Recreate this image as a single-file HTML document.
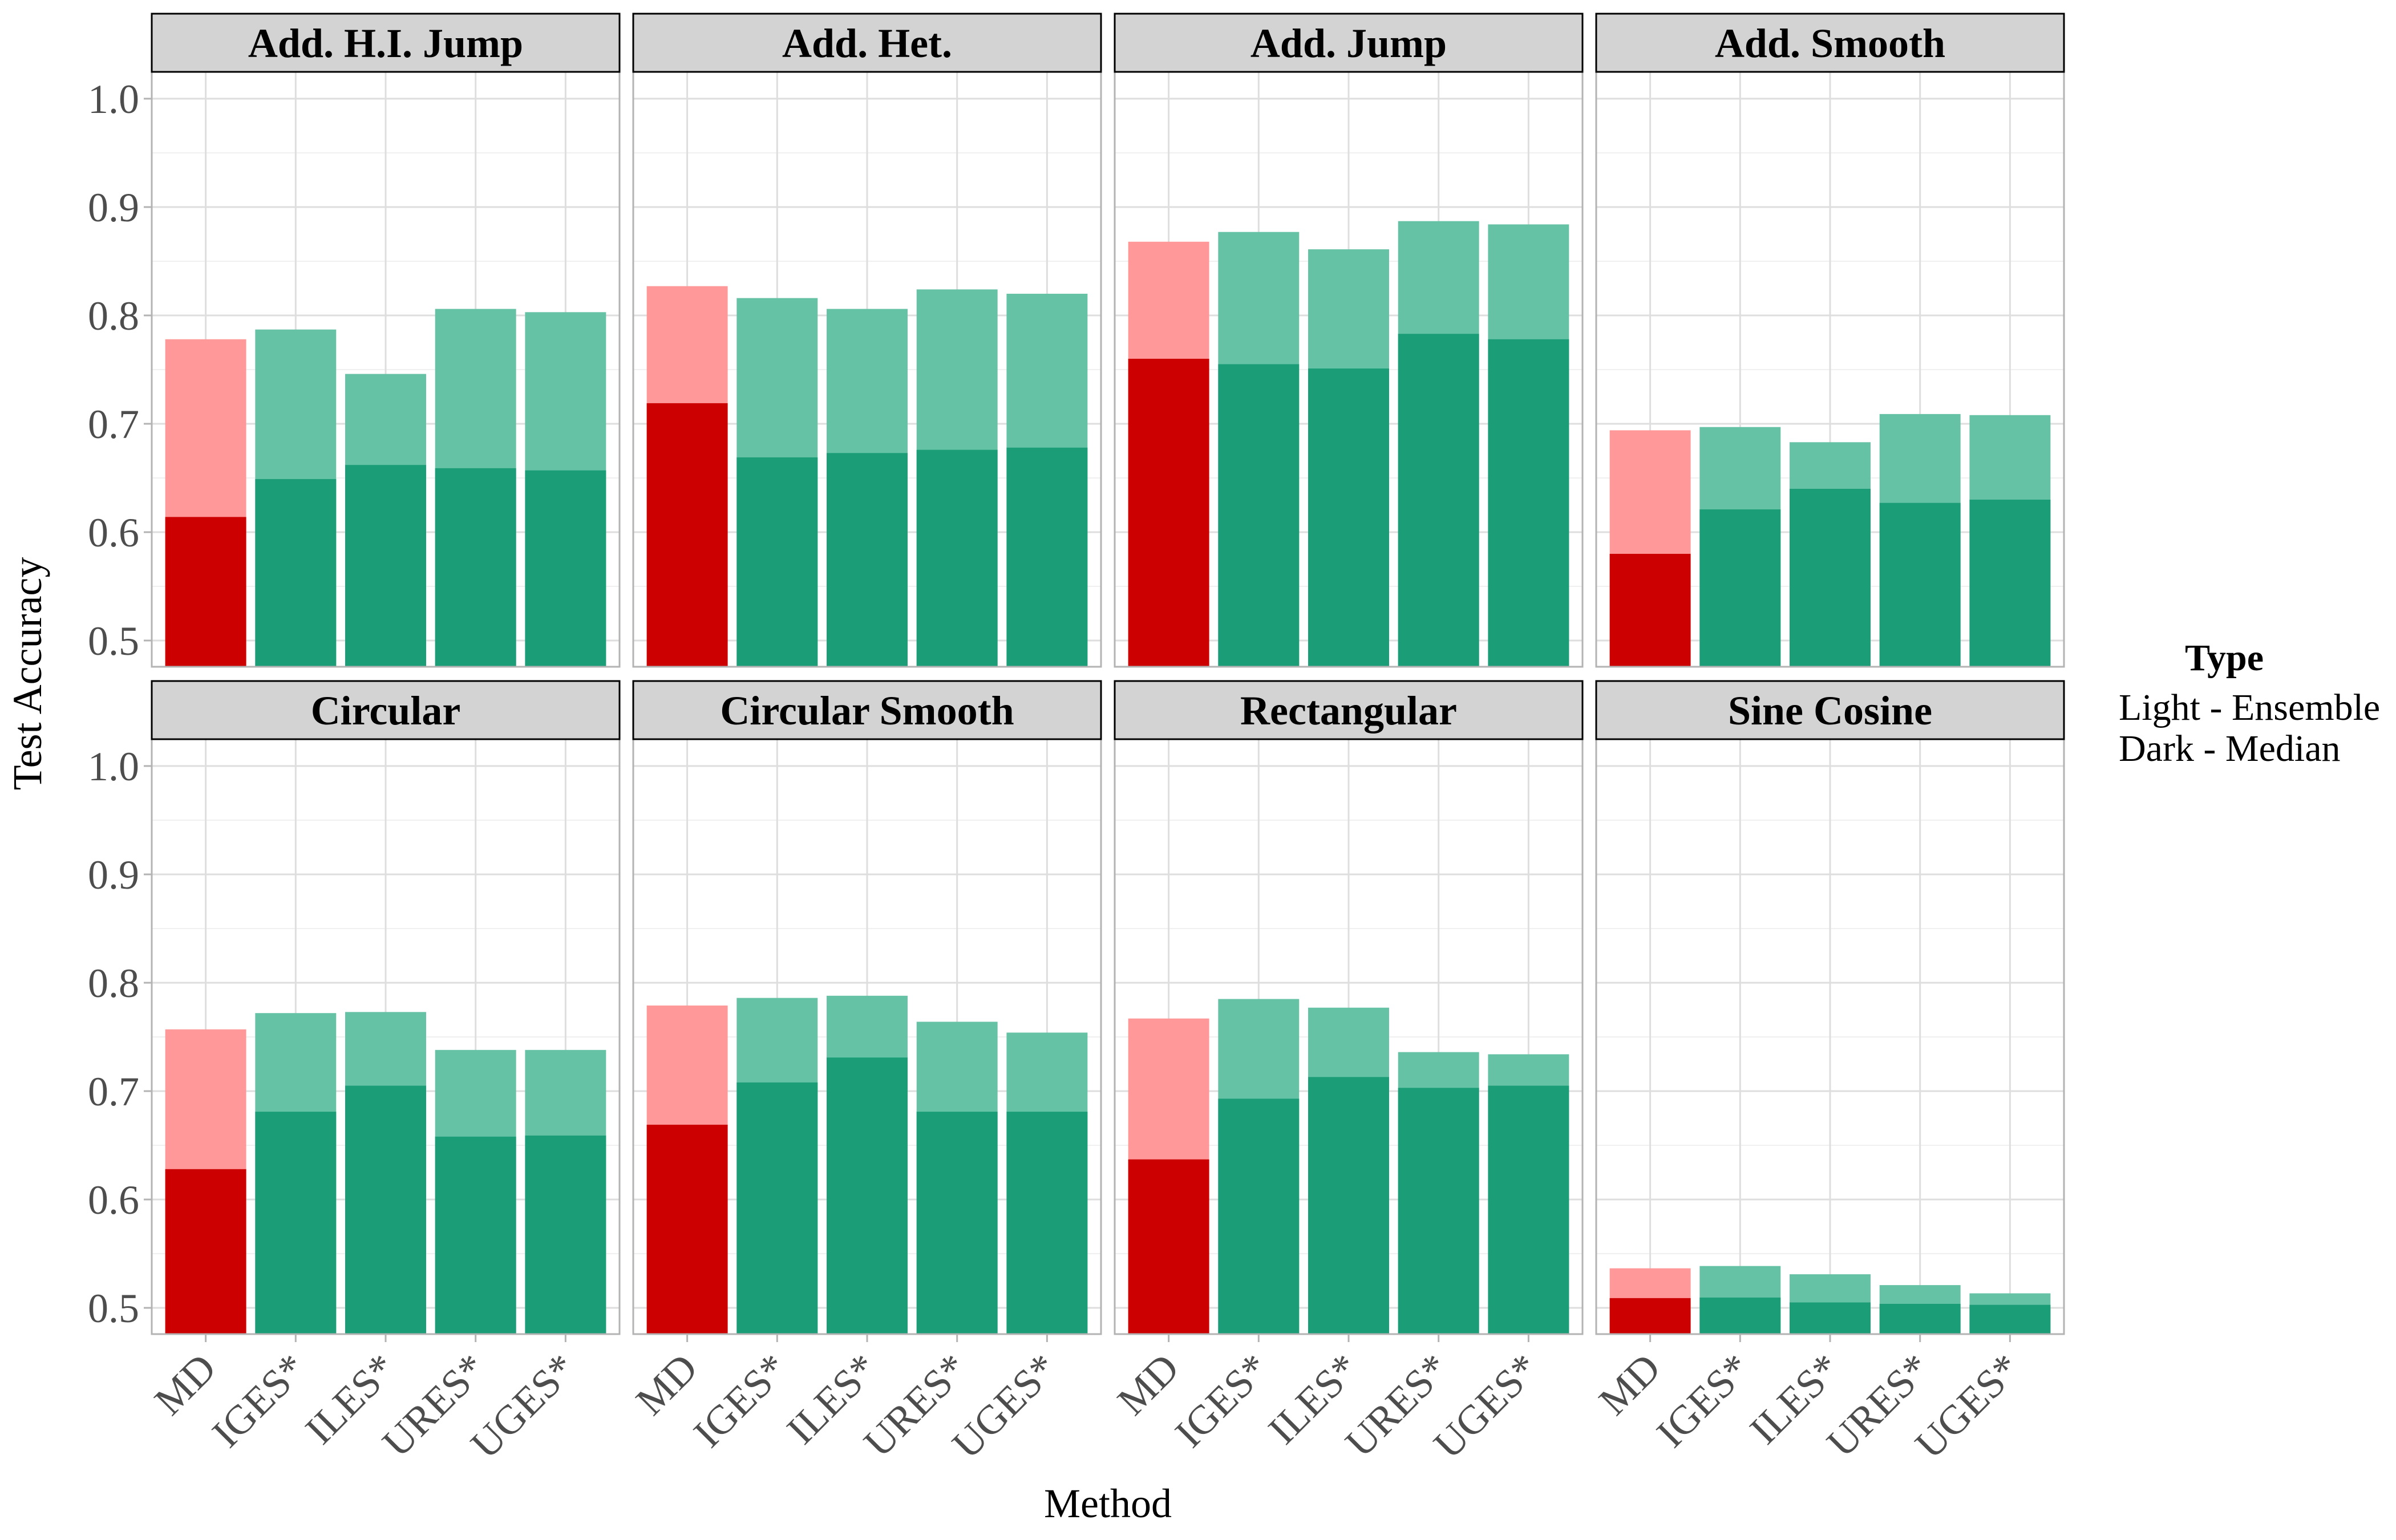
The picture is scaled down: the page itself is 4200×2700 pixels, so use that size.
<!DOCTYPE html>
<html><head><meta charset="utf-8"><style>
html,body{margin:0;padding:0;background:#fff;}
svg{display:block;font-family:"Liberation Serif",serif;}
</style></head><body>
<svg id="chart" width="4200" height="2700" viewBox="0 0 4200 2700" xmlns="http://www.w3.org/2000/svg">
<text x="0" y="0" transform="translate(72,1181) rotate(-90)" text-anchor="middle" font-size="72" fill="#000">Test Accuracy</text>
<text x="1942" y="2660" text-anchor="middle" font-size="72" fill="#000">Method</text>
<g>
<text x="3899" y="1175" text-anchor="middle" font-size="66" font-weight="bold" fill="#000">Type</text>
<text x="3714" y="1262" font-size="66" fill="#000">Light - Ensemble</text>
<text x="3714" y="1334" font-size="66" fill="#000">Dark - Median</text>
</g>
</svg>
<script>
const panels = ["Add. H.I. Jump","Add. Het.","Add. Jump","Add. Smooth","Circular","Circular Smooth","Rectangular","Sine Cosine"];
const methods = ["MD","IGES*","ILES*","URES*","UGES*"];
const yTicks = [0.5,0.6,0.7,0.8,0.9,1.0];
const yTickLabels = ["0.5","0.6","0.7","0.8","0.9","1.0"];
const ensembleVals = [
 [0.778,0.787,0.746,0.806,0.803],
 [0.827,0.816,0.806,0.824,0.820],
 [0.868,0.877,0.861,0.887,0.884],
 [0.694,0.697,0.683,0.709,0.708],
 [0.757,0.772,0.773,0.738,0.738],
 [0.779,0.786,0.788,0.764,0.754],
 [0.767,0.785,0.777,0.736,0.734],
 [0.5365,0.5386,0.531,0.521,0.5134]
];
const medianVals = [
 [0.614,0.649,0.662,0.659,0.657],
 [0.719,0.669,0.673,0.676,0.678],
 [0.760,0.755,0.751,0.783,0.778],
 [0.580,0.621,0.640,0.627,0.630],
 [0.628,0.681,0.705,0.658,0.659],
 [0.669,0.708,0.731,0.681,0.681],
 [0.637,0.693,0.713,0.703,0.705],
 [0.509,0.5095,0.505,0.5037,0.5028]
];
const NS="http://www.w3.org/2000/svg";
const svg=document.getElementById('chart');
const panelW=820, pitch=844, left0=266;
const rowTop=[24,1194], stripH=102, plotTop=[126,1296], plotBot=[1169,2339], y10=[173,1343];
const yMin=0.4755, yMax=1.0245;
function mk(t,a,p){const e=document.createElementNS(NS,t);for(const k in a)e.setAttribute(k,a[k]);(p||svg).appendChild(e);return e;}
panels.forEach((name,pi)=>{
  const r=Math.floor(pi/4), c=pi%4;
  const x0=left0+c*pitch, x1=x0+panelW;
  const yS=v=>y10[r]+(1.0-v)*1900;
  const xS=i=>x0+(i+1-0.4)*(panelW/5.2);
  const g=mk('g',{});
  
  
  for(let i=0;i<yTicks.length;i++){const v=yTicks[i]+0.05; if(v<yMax){const l=mk('line',{x1:x0,x2:x1,y1:yS(v),y2:yS(v),stroke:'#ebebeb','stroke-width':1.5},g);}}
  yTicks.forEach(v=>{const l=mk('line',{x1:x0,x2:x1,y1:yS(v),y2:yS(v),stroke:'#dedede','stroke-width':3},g);});
  methods.forEach((m,i)=>{const l=mk('line',{x1:xS(i),x2:xS(i),y1:plotTop[r],y2:plotBot[r],stroke:'#dedede','stroke-width':3},g);});
  const bw=0.9*panelW/5.2;
  methods.forEach((m,i)=>{
    const base=yS(yMin);
    const lt=yS(ensembleVals[pi][i]), dk=yS(medianVals[pi][i]);
    const isMD=i===0;
    const b1=mk('rect',{x:xS(i)-bw/2,y:lt,width:bw,height:base-lt,fill:isMD?'#ff9999':'#66c2a5'},g);
    
    
    const b2=mk('rect',{x:xS(i)-bw/2,y:dk,width:bw,height:base-dk,fill:isMD?'#cc0000':'#1b9e77'},g);
    
    
  });
  const bd=mk('rect',{x:x0,y:plotTop[r],width:panelW,height:plotBot[r]-plotTop[r],fill:'none',stroke:'#b3b3b3','stroke-width':3},g);
  
  const st=mk('rect',{x:x0,y:rowTop[r],width:panelW,height:stripH,fill:'#d3d3d3',stroke:'#000','stroke-width':3},g);
  
  const tt=mk('text',{x:(x0+x1)/2,y:rowTop[r]+stripH/2+25,'text-anchor':'middle','font-size':72,'font-weight':'bold',fill:'#000'},g);
  
  tt.textContent=name;
  if(c===0){
    yTicks.forEach((v,k)=>{
      const tk=mk('line',{x1:x0-14,x2:x0,y1:yS(v),y2:yS(v),stroke:'#b3b3b3','stroke-width':3});
      
      const t=mk('text',{x:x0-22,y:yS(v)+25,'text-anchor':'end','font-size':72,fill:'#4d4d4d'});
      
      t.textContent=yTickLabels[k];
    });
  }
  if(r===1){
    methods.forEach((m,i)=>{
      const tk=mk('line',{x1:xS(i),x2:xS(i),y1:plotBot[r],y2:plotBot[r]+14,stroke:'#b3b3b3','stroke-width':3});
      
      const ax=xS(i)+22, ay=plotBot[r]+64;
      const t=mk('text',{x:ax,y:ay,'text-anchor':'end','font-size':72,fill:'#4d4d4d',transform:`rotate(-45 ${ax} ${ay})`});
      
      t.textContent=m;
    });
  }
});
</script>
</body></html>
